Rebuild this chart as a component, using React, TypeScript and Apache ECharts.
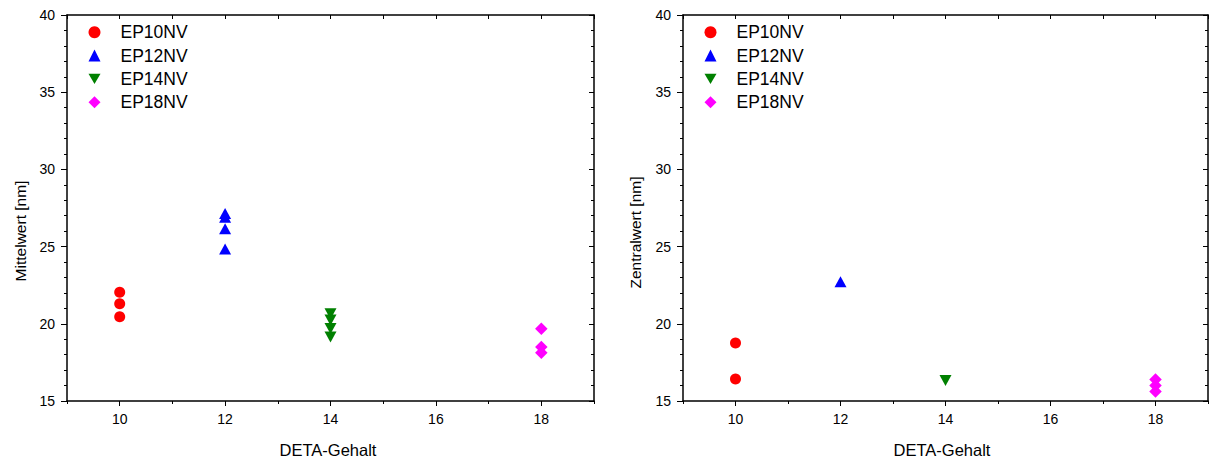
import React, { useEffect, useRef } from "react";
import * as echarts from "echarts";

// ---- data ----
const seriesNames = ["EP10NV", "EP12NV", "EP14NV", "EP18NV"];
const deta = [10, 12, 14, 18];

// Mittelwert [nm]
const mittelEP10 = [22.05, 21.3, 20.45];
const mittelEP12 = [27.15, 26.9, 26.15, 24.85];
const mittelEP14 = [20.65, 20.25, 19.7, 19.15];
const mittelEP18 = [19.68, 18.5, 18.13];

// Zentralwert [nm]
const zentralEP10 = [18.76, 16.42];
const zentralEP12 = [22.72];
const zentralEP14 = [16.32];
const zentralEP18 = [16.4, 16.0, 15.62];

const xMajorLabels = [10, 12, 14, 16, 18];
const xTitle = "DETA-Gehalt";
const yTitles = ["Mittelwert [nm]", "Zentralwert [nm]"];

const FONT = "'Liberation Sans', Arial, Helvetica, sans-serif";
const colors = ["#ff0000", "#0000ff", "#008000", "#ff00ff"];
const DOWN_TRI = "path://M0,0L12,0L6,10.4Z";
const symbols = ["circle", "triangle", DOWN_TRI, "diamond"];
const sizes: any[] = [11, [12, 11], [12, 11], 12.5];

const grids = [
  { left: 67, top: 15, width: 527, height: 386 },
  { left: 683, top: 15, width: 525, height: 386 },
];

function xAxesFor(g: number) {
  const base = { gridIndex: g, type: "value", min: 9, max: 19, interval: 1, splitLine: { show: false } };
  return [
    {
      ...base,
      position: "bottom",
      axisLine: { show: true, onZero: false, lineStyle: { color: "#000", width: 1.5 } },
      axisTick: { show: true, length: 3, lineStyle: { color: "#000", width: 1 } },
      axisLabel: {
        show: true,
        margin: 11,
        fontSize: 14,
        fontFamily: FONT,
        color: "#000",
        formatter: (v: number) => (xMajorLabels.indexOf(v) >= 0 ? String(v) : ""),
      },
    },
    {
      ...base,
      position: "bottom",
      axisLine: { show: false, onZero: false },
      axisTick: { show: true, length: 5, customValues: xMajorLabels, lineStyle: { color: "#000", width: 1 } },
      axisLabel: { show: false },
    },
    {
      ...base,
      position: "top",
      axisLine: { show: true, onZero: false, lineStyle: { color: "#000", width: 1.5 } },
      axisTick: { show: true, inside: true, length: 4, lineStyle: { color: "#000", width: 1 } },
      axisLabel: { show: false },
    },
  ];
}

function yAxesFor(g: number) {
  const base = { gridIndex: g, type: "value", min: 15, max: 40, interval: 5, splitLine: { show: false } };
  return [
    {
      ...base,
      position: "left",
      axisLine: { show: true, onZero: false, lineStyle: { color: "#000", width: 1.5 } },
      axisTick: { show: true, length: 6, lineStyle: { color: "#000", width: 1 } },
      minorTick: { show: true, splitNumber: 5, length: 3, lineStyle: { color: "#000", width: 1 } },
      axisLabel: { show: true, margin: 12, fontSize: 14, fontFamily: FONT, color: "#000" },
    },
    {
      ...base,
      position: "right",
      axisLine: { show: true, onZero: false, lineStyle: { color: "#000", width: 1.5 } },
      axisTick: { show: true, inside: true, length: 5, lineStyle: { color: "#000", width: 1 } },
      minorTick: { show: true, splitNumber: 5, length: 3, lineStyle: { color: "#000", width: 1 } },
      axisLabel: { show: false },
    },
  ];
}

function makeSeries(g: number, values: number[][]) {
  return values.map((vals, i) => ({
    type: "scatter",
    name: seriesNames[i],
    xAxisIndex: g * 3,
    yAxisIndex: g * 2,
    symbol: symbols[i],
    symbolSize: sizes[i],
    symbolKeepAspect: false,
    itemStyle: { color: colors[i], opacity: 1 },
    data: vals.map((v) => [deta[i], v]),
    z: 5,
  }));
}

function legendFor(g: number) {
  return {
    orient: "vertical",
    left: grids[g].left + 21.5,
    top: 23.3,
    padding: 0,
    itemWidth: 12,
    itemHeight: 12,
    itemGap: 5.3,
    selectedMode: false,
    data: seriesNames.map((n, i) => ({ name: n, icon: symbols[i] })),
    textStyle: { fontSize: 17.5, fontFamily: FONT, color: "#000", lineHeight: 18, padding: [0, 0, 0, 15] },
  };
}

export default function App() {
  const ref = useRef<HTMLDivElement>(null);
  useEffect(() => {
    if (!ref.current) return;
    const chart = echarts.init(ref.current, null, { renderer: "svg" });
    const option: any = {
      animation: false,
      backgroundColor: "#ffffff",
      grid: grids.map((g) => ({ ...g, containLabel: false })),
      xAxis: [...xAxesFor(0), ...xAxesFor(1)],
      yAxis: [...yAxesFor(0), ...yAxesFor(1)],
      legend: [legendFor(0), legendFor(1)],
      series: [
        ...makeSeries(0, [mittelEP10, mittelEP12, mittelEP14, mittelEP18]),
        ...makeSeries(1, [zentralEP10, zentralEP12, zentralEP14, zentralEP18]),
      ],
      graphic: [
        {
          type: "text",
          x: 328,
          y: 450,
          style: { text: xTitle, fontSize: 16.5, fontFamily: FONT, fill: "#000", align: "center", verticalAlign: "middle" },
        },
        {
          type: "text",
          x: 942,
          y: 450,
          style: { text: xTitle, fontSize: 16.5, fontFamily: FONT, fill: "#000", align: "center", verticalAlign: "middle" },
        },
        {
          type: "text",
          x: 20,
          y: 231,
          rotation: Math.PI / 2,
          style: { text: yTitles[0], fontSize: 15.5, fontFamily: FONT, fill: "#000", align: "center", verticalAlign: "middle" },
        },
        {
          type: "text",
          x: 635.5,
          y: 232.5,
          rotation: Math.PI / 2,
          style: { text: yTitles[1], fontSize: 15.5, fontFamily: FONT, fill: "#000", align: "center", verticalAlign: "middle" },
        },
      ],
    };
    chart.setOption(option);
    return () => chart.dispose();
  }, []);
  return (
    <div
      ref={ref}
      style={{ position: "fixed", left: 0, top: 0, width: 1212, height: 461, background: "#fff" }}
    />
  );
}
